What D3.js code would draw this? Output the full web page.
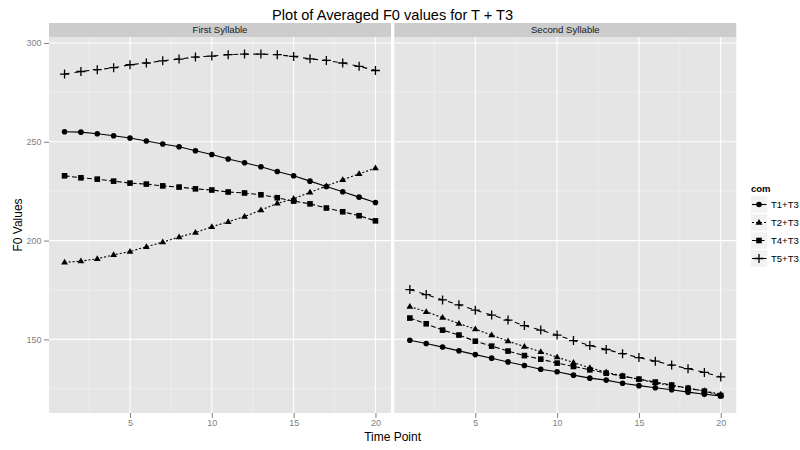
<!DOCTYPE html>
<html>
<head>
<meta charset="utf-8">
<script src="https://cdn.jsdelivr.net/npm/d3@7"></script>
<style>
  body { margin: 0; background: #fff; }
  svg { display: block; font-family: "Liberation Sans", Arial, sans-serif; }
</style>
</head>
<body>
<div id="chart"></div>
<script>
// time points 1..20
const timePoints = [1,2,3,4,5,6,7,8,9,10,11,12,13,14,15,16,17,18,19,20];
const facets = ["First Syllable", "Second Syllable"];
const seriesNames = ["T1+T3", "T2+T3", "T4+T3", "T5+T3"];

// first syllable
const t1First = [255.1,254.9,254.1,253.1,251.9,250.4,248.9,247.5,245.5,243.6,241.3,239.4,237.4,235.0,232.8,230.1,227.4,224.7,222.0,219.3];
const t2First = [189.0,189.6,190.8,192.8,194.5,196.9,199.2,201.8,204.1,207.0,209.5,212.2,215.4,218.8,221.2,224.4,227.6,230.8,233.8,236.7];
const t4First = [232.8,231.8,231.1,230.1,229.1,228.6,227.7,227.1,226.2,225.6,224.6,224.1,223.2,221.7,220.0,218.6,216.5,214.6,212.6,210.0];
const t5First = [284.3,285.6,286.5,287.5,289.0,289.9,291.0,291.9,292.9,293.4,294.1,294.4,294.4,294.1,293.2,292.0,291.2,289.9,288.2,286.1];

// second syllable
const t1Second = [149.6,147.9,146.1,144.2,142.3,140.5,138.6,136.8,134.9,133.6,131.9,130.4,129.4,127.8,126.6,125.5,124.5,123.3,122.2,121.4];
const t2Second = [166.6,164.0,161.0,158.0,155.2,152.2,149.1,146.4,143.7,141.0,138.3,135.6,133.4,131.5,129.8,128.0,126.6,125.3,123.9,122.2];
const t4Second = [160.8,157.9,154.7,152.2,149.1,146.6,144.1,141.8,140.0,138.0,136.3,134.6,132.9,131.4,129.9,128.4,126.9,125.3,123.8,121.6];
const t5Second = [175.2,172.7,170.0,167.5,164.8,162.3,159.8,157.0,154.7,152.2,149.4,146.9,144.9,142.8,140.8,139.0,137.0,135.2,133.3,131.0];

const xTicks = [5, 10, 15, 20];
const xMinor = [2.5, 7.5, 12.5, 17.5];
const yTicks = [150, 200, 250, 300];
const yMinor = [125, 175, 225, 275];

const panelValues = [
  [t1First, t2First, t4First, t5First],
  [t1Second, t2Second, t4Second, t5Second]
];

const width = 800, height = 450;
const panelTop = 37, panelBottom = 413;
const panelLefts = [49, 394.3], panelW = 342;
const stripH = 14;

const dashes = [null, "2,2", "5,2.5", "5,5"];

const svg = d3.select("#chart").append("svg")
  .attr("width", width)
  .attr("height", height);

const y = d3.scaleLinear().domain([112.75, 303.05]).range([panelBottom, panelTop]);

svg.append("text")
  .attr("x", 392.6).attr("y", 20)
  .attr("text-anchor", "middle")
  .attr("font-size", "14.6px")
  .attr("fill", "#000")
  .text("Plot of Averaged F0 values for T + T3");

// symbols
function drawMarker(g, k, cx, cy) {
  if (k === 0) {
    g.append("circle").attr("cx", cx).attr("cy", cy).attr("r", 2.8).attr("fill", "#000");
  } else if (k === 1) {
    const s = 3.6;
    g.append("path")
      .attr("d", "M" + cx + "," + (cy - s) + "L" + (cx + s * 0.95) + "," + (cy + s * 0.6) + "L" + (cx - s * 0.95) + "," + (cy + s * 0.6) + "Z")
      .attr("fill", "#000");
  } else if (k === 2) {
    g.append("rect").attr("x", cx - 2.8).attr("y", cy - 2.8).attr("width", 5.6).attr("height", 5.6).attr("fill", "#000");
  } else {
    const s = 4.5;
    g.append("path")
      .attr("d", "M" + (cx - s) + "," + cy + "H" + (cx + s) + "M" + cx + "," + (cy - s) + "V" + (cy + s))
      .attr("stroke", "#000").attr("stroke-width", 1.3);
  }
}

facets.forEach(function (name, fi) {
  const left = panelLefts[fi];
  const x = d3.scaleLinear().domain([0.05, 20.95]).range([left, left + panelW]);
  const g = svg.append("g");

  // strip
  g.append("rect")
    .attr("x", left).attr("y", panelTop - stripH)
    .attr("width", panelW).attr("height", stripH)
    .attr("fill", "#CCCCCC");
  g.append("text")
    .attr("x", left + panelW / 2).attr("y", panelTop - stripH / 2 + 3.4)
    .attr("text-anchor", "middle")
    .attr("font-size", "9.6px")
    .attr("fill", "#1A1A1A")
    .text(name);

  // panel background
  g.append("rect")
    .attr("x", left).attr("y", panelTop)
    .attr("width", panelW).attr("height", panelBottom - panelTop)
    .attr("fill", "#E5E5E5");

  // grid
  g.selectAll(".xminor").data(xMinor).enter().append("line")
    .attr("x1", d => x(d)).attr("x2", d => x(d))
    .attr("y1", panelTop).attr("y2", panelBottom)
    .attr("stroke", "#F2F2F2").attr("stroke-width", 0.6);
  g.selectAll(".yminor").data(yMinor).enter().append("line")
    .attr("x1", left).attr("x2", left + panelW)
    .attr("y1", d => y(d)).attr("y2", d => y(d))
    .attr("stroke", "#F2F2F2").attr("stroke-width", 0.6);
  g.selectAll(".xmajor").data(xTicks).enter().append("line")
    .attr("x1", d => x(d)).attr("x2", d => x(d))
    .attr("y1", panelTop).attr("y2", panelBottom)
    .attr("stroke", "#fff").attr("stroke-width", 1.1);
  g.selectAll(".ymajor").data(yTicks).enter().append("line")
    .attr("x1", left).attr("x2", left + panelW)
    .attr("y1", d => y(d)).attr("y2", d => y(d))
    .attr("stroke", "#fff").attr("stroke-width", 1.1);

  // x axis
  const xAxis = d3.axisBottom(x).tickValues(xTicks).tickSize(5).tickPadding(2);
  const ax = svg.append("g").attr("transform", "translate(0," + panelBottom + ")").call(xAxis);
  ax.select(".domain").remove();
  ax.selectAll("line").attr("stroke", "#7F7F7F");
  ax.selectAll("text").attr("fill", "#7F7F7F").attr("font-size", "9px")
    .attr("font-family", "Liberation Sans, Arial, sans-serif");

  // lines and points
  panelValues[fi].forEach(function (vals, k) {
    const line = d3.line().x((d, i) => x(timePoints[i])).y(d => y(d));
    g.append("path")
      .datum(vals)
      .attr("d", line)
      .attr("fill", "none")
      .attr("stroke", "#000")
      .attr("stroke-width", 1.1)
      .attr("stroke-dasharray", dashes[k]);
    vals.forEach(function (v, i) {
      drawMarker(g, k, x(timePoints[i]), y(v));
    });
  });
});

// y axis
const yAxis = d3.axisLeft(y).tickValues(yTicks).tickSize(5).tickPadding(2.5);
const ay = svg.append("g").attr("transform", "translate(" + panelLefts[0] + ",0)").call(yAxis);
ay.select(".domain").remove();
ay.selectAll("line").attr("stroke", "#7F7F7F");
ay.selectAll("text").attr("fill", "#7F7F7F").attr("font-size", "9px")
  .attr("font-family", "Liberation Sans, Arial, sans-serif");

// axis titles
svg.append("text")
  .attr("x", 392.6).attr("y", 441)
  .attr("text-anchor", "middle")
  .attr("font-size", "12px")
  .text("Time Point");
svg.append("text")
  .attr("transform", "translate(22,225) rotate(-90)")
  .attr("text-anchor", "middle")
  .attr("font-size", "12px")
  .text("F0 Values");

// legend
const legend = svg.append("g");
legend.append("text")
  .attr("x", 751).attr("y", 192)
  .attr("font-size", "9.5px")
  .attr("font-weight", "bold")
  .text("com");
seriesNames.forEach(function (name, k) {
  const cy = 204.5 + k * 18;
  legend.append("rect")
    .attr("x", 750.5).attr("y", cy - 8.5)
    .attr("width", 17).attr("height", 17)
    .attr("fill", "#F2F2F2")
    .attr("stroke", "#fff").attr("stroke-width", 0.5);
  legend.append("line")
    .attr("x1", 752).attr("x2", 766.5)
    .attr("y1", cy).attr("y2", cy)
    .attr("stroke", "#000").attr("stroke-width", 1.1)
    .attr("stroke-dasharray", dashes[k]);
  drawMarker(legend, k, 759, cy);
  legend.append("text")
    .attr("x", 771).attr("y", cy + 3.5)
    .attr("font-size", "9.5px")
    .text(name);
});
</script>
</body>
</html>
